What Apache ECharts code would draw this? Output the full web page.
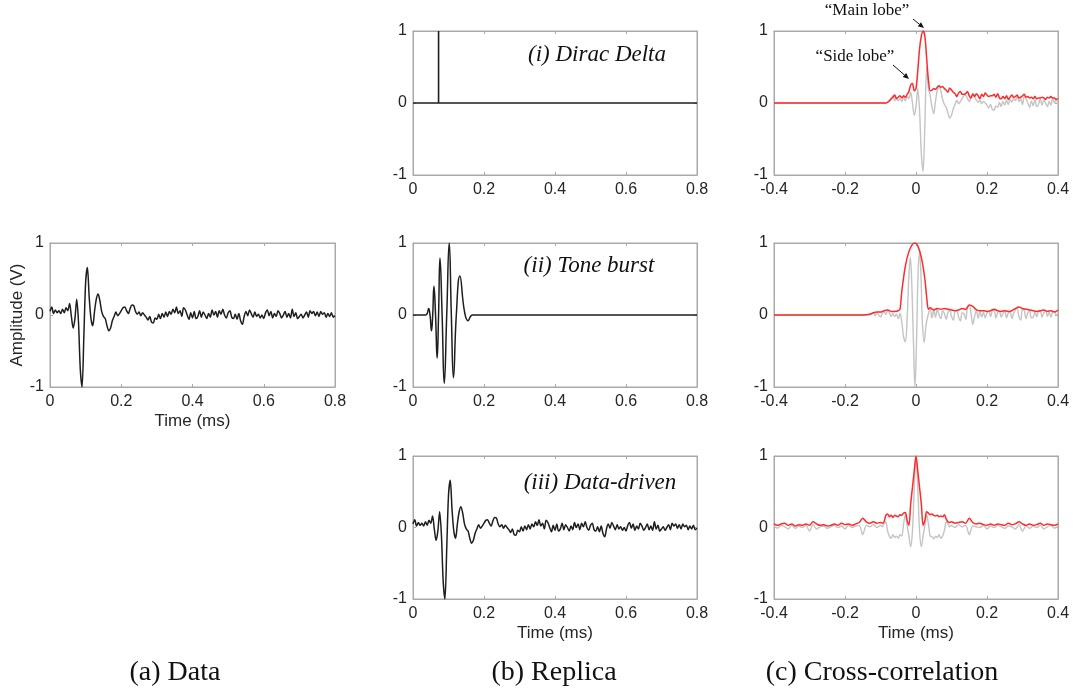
<!DOCTYPE html>
<html><head><meta charset="utf-8">
<script src="https://cdn.jsdelivr.net/npm/echarts@6/dist/echarts.min.js"></script>
<style>html,body{margin:0;padding:0;background:#fff}#c{width:1073px;height:696px}</style>
</head><body><div id="c"></div>
<script>
function seq(a, b, step){ const n=Math.round((b-a)/step); const r=[]; for(let i=0;i<=n;i++) r.push(+(a+i*step).toFixed(4)); return r; }
function zip(xs, ys){ return xs.map((x,i)=>[x, ys[i]]); }

// ---- (a) Data and (b)(iii) Data-driven replica: time 0..0.8 ms, step 0.005
const dataTime = seq(0, 0.8, 0.005);
const dataValues = [
 0.05,0.11,0.02,0.07,0.03,0.06,0.02,0.08,0.03,0.10,
 0.06,0.16,-0.02,-0.18,-0.05,0.22,-0.10,-0.75,-1.00,-0.30,
 0.45,0.66,0.25,-0.05,-0.15,0.05,0.22,0.29,0.20,0.05,
 -0.02,-0.05,-0.15,-0.22,-0.18,-0.08,-0.02,0.04,-0.01,0.02,
 0.06,0.10,0.11,0.06,0.02,0.09,0.14,0.13,0.05,0.01,
 0.04,-0.01,0.03,0.00,-0.03,-0.07,-0.02,-0.10,-0.11,-0.04,
 -0.06,0.01,-0.05,0.02,-0.03,0.04,-0.02,0.05,0.01,0.08,
 0.03,0.11,0.02,0.06,-0.02,0.10,0.07,0.00,-0.06,0.03,
 -0.04,0.05,-0.05,-0.02,0.06,-0.03,0.04,0.00,-0.05,0.02,
 -0.03,0.07,0.00,0.05,-0.03,0.06,0.01,0.08,0.00,-0.04,
 0.03,0.06,-0.03,-0.05,0.01,-0.06,0.02,-0.08,-0.13,-0.02,
 0.05,-0.01,0.07,0.02,-0.03,0.04,-0.02,0.01,-0.04,0.00,
 -0.05,0.03,0.07,-0.01,0.05,-0.04,0.02,-0.02,0.06,0.02,
 -0.04,0.00,0.05,-0.03,0.02,-0.04,0.08,-0.02,0.03,-0.05,
 -0.02,0.01,-0.04,0.00,0.04,-0.03,0.06,0.02,0.05,-0.01,
 0.04,-0.02,0.05,0.01,0.03,-0.03,0.02,-0.02,0.03,-0.03,
 -0.01
];

// ---- (b)(i) Dirac delta replica
const deltaTime   = [0, 0.072, 0.072, 0.072, 0.8];
const deltaValues = [0, 0, 1, 0, 0];

// ---- (b)(ii) Tone burst replica
const toneTime   = [0,0.035,0.040,0.044,0.048,0.052,0.0555,0.059,0.0635,0.068,0.072,0.076,0.082,0.088,0.095,0.102,0.108,0.114,0.122,0.132,0.145,0.155,0.162,0.168,0.8];
const toneValues = [0,0,0.02,0.09,0.0,-0.22,0.0,0.40,0.0,-0.60,0.0,0.79,0.0,-0.95,0.0,1.00,0.0,-0.87,0.0,0.54,0.05,-0.08,-0.02,0,0];

// ---- (c)(i) cross-correlation with Dirac delta
const corr1Lag = [-0.4, ...seq(-0.085, 0.4, 0.005)];
const corr1Gray = [0,
 0.00,0.01,0.03,0.05,0.10,0.03,0.07,0.03,0.06,0.02,
 0.08,0.03,0.09,0.06,0.15,0.00,-0.17,-0.05,0.20,-0.10,
 -0.70,-0.95,-0.30,0.50,0.20,0.10,-0.05,-0.15,0.03,0.18,
 0.22,0.17,0.05,-0.02,-0.06,-0.14,-0.21,-0.17,-0.08,-0.02,
 0.04,-0.01,0.02,0.06,0.10,0.11,0.06,0.02,0.08,0.12,
 0.08,0.04,0.01,0.04,-0.01,0.02,0.00,-0.03,-0.07,-0.02,
 -0.09,-0.10,-0.04,-0.06,0.01,-0.05,0.02,-0.03,0.04,-0.02,
 0.05,0.01,0.07,0.03,0.10,0.02,0.06,-0.02,0.09,0.06,
 0.00,-0.06,0.03,-0.04,0.05,-0.05,-0.02,0.06,-0.03,0.04,
 0.00,-0.05,0.02,-0.03,0.07,0.00,0.05,-0.03
];
const corr1Env = [0,
 0.00,0.01,0.03,0.06,0.08,0.11,0.06,0.08,0.10,0.07,
 0.10,0.08,0.12,0.16,0.25,0.27,0.17,0.20,0.45,0.75,
 0.93,1.00,0.93,0.62,0.32,0.17,0.18,0.20,0.19,0.22,
 0.24,0.22,0.23,0.20,0.18,0.15,0.21,0.18,0.15,0.13,
 0.09,0.14,0.16,0.12,0.12,0.13,0.16,0.10,0.07,0.13,
 0.09,0.13,0.10,0.06,0.12,0.09,0.14,0.11,0.09,0.10,
 0.10,0.12,0.08,0.13,0.07,0.06,0.09,0.06,0.10,0.05,
 0.08,0.11,0.08,0.09,0.11,0.07,0.08,0.10,0.12,0.08,
 0.09,0.07,0.08,0.06,0.09,0.06,0.07,0.07,0.08,0.07,
 0.05,0.08,0.07,0.09,0.07,0.07,0.05,0.06
];

// ---- (c)(ii) cross-correlation with tone burst
const corr2GrayLag = [-0.4, -0.14, ...seq(-0.13, -0.045, 0.005),
 -0.040,-0.035,-0.030,-0.025,-0.020,-0.016,-0.012,-0.007,-0.003,0.001,0.006,0.010,0.014,0.018,0.023,0.028,
 ...seq(0.035, 0.4, 0.005)];
const corr2Gray = [0, 0,
 0.01,0.02,0.03,-0.01,0.03,0.00,-0.03,0.02,0.04,0.01,0.06,0.03,-0.02,0.02,-0.02,0.01,-0.05,0.02,
 -0.10,-0.30,-0.37,-0.05,0.55,0.80,0.45,-0.40,-1.00,-0.45,0.60,0.85,0.55,-0.10,-0.38,-0.15,
 0.02,0.08,-0.04,0.07,-0.03,0.08,0.00,-0.05,0.06,0.02,
 -0.06,0.04,0.06,-0.02,-0.07,0.05,0.06,-0.03,-0.08,0.03,
 0.02,-0.06,0.10,0.14,0.02,-0.13,-0.02,0.06,-0.04,0.05,
 -0.03,0.04,-0.04,0.03,0.05,-0.02,0.06,0.07,-0.04,0.03,
 0.05,-0.03,0.02,0.05,-0.04,0.03,0.04,-0.05,0.02,0.07,
 0.09,-0.02,-0.07,0.08,0.06,-0.05,0.03,0.06,-0.04,-0.03,
 0.04,-0.02,0.05,0.06,-0.03,0.03,0.06,-0.02,0.04,-0.03,
 0.04,0.05,0.00,0.02
];
const corr2EnvLag = [-0.4,-0.15,-0.13,-0.12,-0.11,-0.10,-0.09,-0.08,-0.07,-0.06,-0.05,-0.045,-0.04,-0.03,-0.02,-0.01,-0.003,0.005,0.015,0.025,0.03,0.035,
 ...seq(0.04, 0.4, 0.01)];
const corr2Env = [0,0,0.01,0.03,0.04,0.04,0.06,0.07,0.05,0.05,0.06,0.08,0.33,0.68,0.88,0.98,1.00,0.96,0.80,0.50,0.25,0.08,
 0.10,0.07,0.09,0.08,0.09,0.08,0.07,0.06,0.07,0.09,
 0.08,0.14,0.12,0.07,0.06,0.06,0.05,0.06,0.08,0.06,
 0.05,0.06,0.05,0.06,0.09,0.11,0.09,0.08,0.07,0.06,
 0.05,0.06,0.07,0.05,0.06,0.04,0.07
];

// ---- (c)(iii) auto-correlation of data-driven replica
const corr3Lag = [...seq(-0.4, -0.1, 0.01), ...seq(-0.095, 0.095, 0.005), ...seq(0.1, 0.4, 0.01)];
const corr3Gray = [
 0.02,-0.01,0.03,0.01,-0.02,0.03,-0.01,0.02,0.00,0.03,
 -0.05,0.04,-0.02,0.01,0.02,-0.01,0.01,0.03,0.00,0.02,
 -0.02,0.03,0.00,0.02,0.03,-0.10,0.03,0.01,0.04,0.00,0.03,
 0.01,0.05,0.08,-0.05,-0.12,-0.15,-0.10,-0.14,-0.12,-0.15,
 -0.10,-0.12,0.05,0.18,0.03,-0.12,-0.27,-0.05,0.55,1.00,
 0.55,-0.05,-0.27,-0.12,0.03,0.18,0.05,-0.12,-0.13,-0.16,
 -0.12,-0.14,-0.10,-0.15,-0.12,-0.04,0.08,0.05,0.01,
 0.03,0.00,0.04,0.01,0.03,-0.10,0.02,0.01,0.00,0.03,
 -0.02,0.02,0.00,0.03,0.01,-0.01,0.02,0.01,-0.02,0.04,
 -0.05,0.02,-0.01,0.02,0.00,0.03,-0.02,0.01,0.03,-0.01,0.02
];
const corr3Env = [
 0.05,0.03,0.05,0.06,0.03,0.05,0.02,0.04,0.03,0.05,
 0.03,0.08,0.05,0.03,0.04,0.02,0.03,0.05,0.03,0.06,
 0.04,0.05,0.03,0.05,0.07,0.13,0.08,0.06,0.08,0.06,0.07,
 0.06,0.08,0.17,0.19,0.15,0.17,0.14,0.17,0.16,0.15,
 0.18,0.17,0.20,0.21,0.10,0.03,0.33,0.56,0.79,1.00,
 0.79,0.56,0.33,0.03,0.10,0.22,0.20,0.18,0.19,0.17,
 0.16,0.17,0.15,0.16,0.15,0.18,0.12,0.08,0.07,
 0.08,0.06,0.07,0.08,0.06,0.13,0.07,0.05,0.06,0.04,
 0.03,0.05,0.03,0.05,0.04,0.03,0.06,0.04,0.05,0.08,
 0.05,0.03,0.05,0.03,0.04,0.06,0.03,0.05,0.04,0.03,0.05
];

// ---- tick labels / ranges
const yTicks = {min:-1, max:1, interval:1};
const xTimeTicks = {min:0, max:0.8, interval:0.2};
const xLagTicks = {min:-0.4, max:0.4, interval:0.2};

const AXIS_C = '#a9a9a9', TEXT_C = '#262626', SANS = 'Liberation Sans', SERIF = 'Liberation Serif';

const grids = [
 {left:50, top:243, width:285, height:144},
 {left:413, top:31, width:284, height:144},
 {left:413, top:243, width:284, height:144},
 {left:413, top:456, width:284, height:143},
 {left:774, top:31, width:284, height:144},
 {left:774, top:243, width:284, height:144},
 {left:774, top:456, width:284, height:143}
];
const xRanges = [xTimeTicks,xTimeTicks,xTimeTicks,xTimeTicks,xLagTicks,xLagTicks,xLagTicks];
const xNames = {0:'Time (ms)', 3:'Time (ms)', 6:'Time (ms)'};

const xAxes = [], yAxes = [];
grids.forEach((g, i) => {
  const base = {
    gridIndex: i, type: 'value',
    axisLine: {show: true, onZero: false, lineStyle: {color: AXIS_C, width: 1}},
    axisTick: {show: true, inside: true, length: 3, lineStyle: {color: AXIS_C}},
    splitLine: {show: false}
  };
  xAxes.push(Object.assign({}, base, xRanges[i], {
    position: 'bottom',
    axisLabel: {color: TEXT_C, fontFamily: SANS, fontSize: 16, margin: 7},
    name: xNames[i] || '', nameLocation: 'middle', nameGap: 26,
    nameTextStyle: {color: TEXT_C, fontFamily: SANS, fontSize: 17}
  }));
  xAxes.push(Object.assign({}, base, xRanges[i], {position: 'top', axisLabel: {show: false}}));
  yAxes.push(Object.assign({}, base, yTicks, {
    position: 'left',
    axisLabel: {color: TEXT_C, fontFamily: SANS, fontSize: 16, margin: 6},
    name: i === 0 ? 'Amplitude (V)' : '', nameLocation: 'middle', nameGap: 22,
    nameTextStyle: {color: TEXT_C, fontFamily: SANS, fontSize: 17}
  }));
  yAxes.push(Object.assign({}, base, yTicks, {position: 'right', axisLabel: {show: false}}));
});

function line(gi, data, color, width, smooth, z) {
  return {type: 'line', xAxisIndex: 2*gi, yAxisIndex: 2*gi, data: data, symbol: 'none',
    smooth: smooth, lineStyle: {color: color, width: width}, z: z || 2, animation: false, silent: true};
}
const BLACK = '#1e1e1e', GRAY = '#c4c4c4', RED = '#ff2a2a';
const series = [
  line(0, zip(dataTime, dataValues), BLACK, 1.5, 0.3),
  line(1, zip(deltaTime, deltaValues), BLACK, 1.6, false),
  line(2, zip(toneTime, toneValues), BLACK, 1.5, 0.5),
  line(3, zip(dataTime, dataValues), BLACK, 1.5, 0.3),
  line(4, zip(corr1Lag, corr1Gray), GRAY, 1.4, 0.3, 2),
  line(4, zip(corr1Lag, corr1Env), RED, 1.5, 0.3, 3),
  line(5, zip(corr2GrayLag, corr2Gray), GRAY, 1.4, 0.4, 2),
  line(5, zip(corr2EnvLag, corr2Env), RED, 1.5, 0.3, 3),
  line(6, zip(corr3Lag, corr3Gray), GRAY, 1.4, 0.3, 2),
  line(6, zip(corr3Lag, corr3Env), RED, 1.5, 0.3, 3)
];

function txt(text, x, y, font, align) {
  return {type: 'text', style: {text: text, x: x, y: y, font: font, fill: '#111', textAlign: align || 'center', textVerticalAlign: 'middle'}, z: 10};
}
function arrow(x1, y1, x2, y2) {
  const a = Math.atan2(y2-y1, x2-x1), L = 6, W = 2.6;
  const bx = x2 - L*Math.cos(a), by = y2 - L*Math.sin(a);
  const px = -Math.sin(a)*W, py = Math.cos(a)*W;
  return [
    {type: 'line', shape: {x1: x1, y1: y1, x2: bx, y2: by}, style: {stroke: '#111', lineWidth: 1}, z: 10},
    {type: 'polygon', shape: {points: [[x2, y2], [bx+px, by+py], [bx-px, by-py]]}, style: {fill: '#111'}, z: 10}
  ];
}

const graphic = [
  txt('(i) Dirac Delta', 597, 55, 'italic 23px "Liberation Serif"'),
  txt('(ii) Tone burst', 589, 266, 'italic 23px "Liberation Serif"'),
  txt('(iii) Data-driven', 600, 483, 'italic 23px "Liberation Serif"'),
  txt('(a) Data', 175, 673, '28px "Liberation Serif"'),
  txt('(b) Replica', 554, 673, '28px "Liberation Serif"'),
  txt('(c) Cross-correlation', 882, 673, '28px "Liberation Serif"'),
  txt('\u201cMain lobe\u201d', 867, 11, '17px "Liberation Serif"'),
  txt('\u201cSide lobe\u201d', 855, 57, '17px "Liberation Serif"'),
  ...arrow(913, 19, 924, 28),
  ...arrow(893, 65, 909, 79)
];

const chart = echarts.init(document.getElementById('c'), null, {renderer: 'canvas'});
chart.setOption({
  animation: false,
  backgroundColor: '#fff',
  grid: grids.map(g => Object.assign({show: true, borderColor: AXIS_C, borderWidth: 1, containLabel: false}, g)),
  xAxis: xAxes,
  yAxis: yAxes,
  series: series,
  graphic: graphic
});
</script></body></html>
